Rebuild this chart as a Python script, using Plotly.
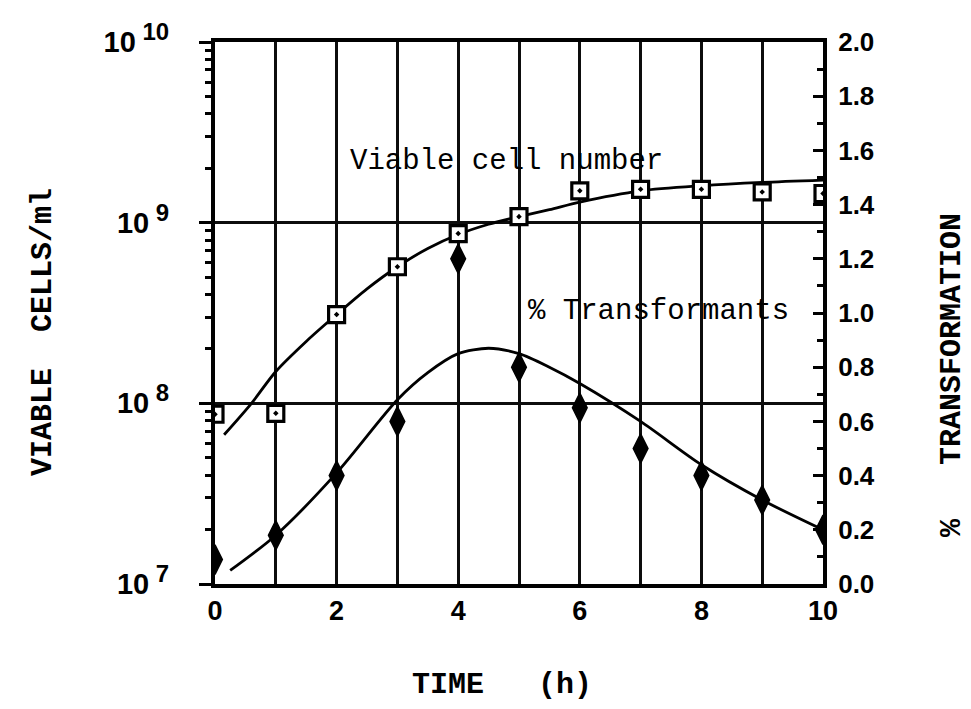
import plotly.graph_objects as go

# Sampling times (h)
time_h = [0, 1, 2, 3, 4, 5, 6, 7, 8, 9, 10]

# Viable cells per ml measured at each time point
viable_cells = [8.7e7, 8.8e7, 3.1e8, 5.7e8, 8.7e8, 1.08e9, 1.5e9, 1.53e9, 1.53e9, 1.48e9, 1.45e9]

# Percent transformants measured at each time point
transformants_pct = [0.09, 0.18, 0.40, 0.60, 1.20, 0.80, 0.65, 0.50, 0.40, 0.31, 0.20]

# Smoothed growth curve for viable cells
viable_fit_t = [0.15, 0.6, 1, 1.5, 2, 2.5, 3, 3.5, 4, 4.5, 5, 5.5, 6, 7, 8, 9, 10]
viable_fit = [6.7e7, 1.0e8, 1.5e8, 2.2e8, 3.1e8, 4.3e8, 5.7e8, 7.2e8, 8.6e8, 9.8e8,
              1.08e9, 1.18e9, 1.3e9, 1.5e9, 1.6e9, 1.67e9, 1.72e9]

# Smoothed curve for percent transformants
transf_fit_t = [0.25, 1, 2, 3, 3.5, 4, 4.5, 5, 5.5, 6, 7, 8, 9, 10]
transf_fit = [0.05, 0.18, 0.41, 0.68, 0.78, 0.85, 0.87, 0.85, 0.80, 0.74, 0.60, 0.44, 0.31, 0.20]

# Axis ticks
x_ticks = [0, 2, 4, 6, 8, 10]
x_minor = [1, 3, 5, 7, 9]
left_exps = [7, 8, 9, 10]
right_ticks = [round(0.2 * i, 1) for i in range(11)]

W, H = 971, 709
L, R, T, B = 215, 148, 42, 125
PW, PH = W - L - R, H - T - B


def px_to_paper(px, py):
    return (px - L) / PW, (H - B - py) / PH


fig = go.Figure()

fig.add_trace(go.Scatter(
    x=viable_fit_t, y=viable_fit, mode="lines",
    line=dict(color="black", width=2.8, shape="spline", smoothing=0.8),
    yaxis="y", showlegend=False, hoverinfo="skip"))

fig.add_trace(go.Scatter(
    x=transf_fit_t, y=transf_fit, mode="lines",
    line=dict(color="black", width=2.8, shape="spline", smoothing=0.8),
    yaxis="y2", showlegend=False, hoverinfo="skip"))

fig.add_trace(go.Scatter(
    x=time_h, y=viable_cells, mode="markers",
    marker=dict(symbol="square-dot", size=16, color="white",
                line=dict(color="black", width=3.2)),
    yaxis="y", showlegend=False))

fig.add_trace(go.Scatter(
    x=time_h, y=transformants_pct, mode="markers",
    marker=dict(symbol="diamond-tall", size=21, color="black",
                line=dict(color="black", width=1.5)),
    yaxis="y2", showlegend=False))

minor_left = [m * 10 ** e for e in [7, 8, 9] for m in range(2, 10)]
grid_c, grid_w = "#0d0d0d", 2.8

fig.update_layout(
    width=W, height=H,
    margin=dict(l=L, r=R, t=T, b=B, pad=0),
    paper_bgcolor="white", plot_bgcolor="white",
    xaxis=dict(
        range=[0, 10], tickmode="array", tickvals=x_ticks,
        ticktext=[str(v) for v in x_ticks],
        showgrid=True, gridcolor=grid_c, gridwidth=grid_w,
        minor=dict(tickvals=x_minor, showgrid=True, gridcolor=grid_c, gridwidth=grid_w, ticks=""),
        showline=True, linecolor="black", linewidth=4, mirror=True,
        ticks="", zeroline=False, ticklabelstandoff=0,
        tickfont=dict(family="Liberation Sans", size=27, color="black", weight="bold"),
    ),
    yaxis=dict(
        type="log", range=[7, 10], tickmode="array",
        tickvals=[10 ** e for e in left_exps],
        ticktext=[f"10<sup><span style='font-size:24px'> {e}</span></sup>" for e in left_exps],
        showgrid=True, gridcolor=grid_c, gridwidth=grid_w,
        ticks="outside", ticklen=12, tickwidth=2.5, tickcolor="black",
        minor=dict(tickvals=minor_left, ticks="outside", ticklen=6, tickwidth=2.5,
                   tickcolor="black", showgrid=False),
        showline=True, linecolor="black", linewidth=4, mirror=True,
        zeroline=False, ticklabelstandoff=24,
        tickfont=dict(family="Liberation Sans", size=29, color="black", weight="bold"),
    ),
    yaxis2=dict(
        overlaying="y", side="right", range=[0, 2], tickmode="array",
        tickvals=right_ticks, ticktext=[f"{v:.1f}" for v in right_ticks],
        showgrid=False, zeroline=False,
        ticks="inside", ticklen=10, tickwidth=2.5, tickcolor="black",
        minor=dict(dtick=0.1, tick0=0, ticks="inside", ticklen=6, tickwidth=2.5,
                   tickcolor="black", showgrid=False),
        showline=True, linecolor="black", linewidth=4,
        ticklabelstandoff=6,
        tickfont=dict(family="Liberation Sans", size=26, color="black", weight="bold"),
    ),
)

title_font = dict(family="Liberation Mono", size=30, color="black", weight="bold")
label_font = dict(family="Liberation Mono", size=29, color="black")

annotations = []

x, y = px_to_paper(43, 332)
annotations.append(dict(text="VIABLE  CELLS/ml", x=x, y=y, xref="paper", yref="paper",
                        textangle=-90, showarrow=False, font=title_font,
                        xanchor="center", yanchor="middle"))

x, y = px_to_paper(502, 685)
annotations.append(dict(text="TIME   (h)", x=x, y=y, xref="paper", yref="paper",
                        showarrow=False, font=title_font,
                        xanchor="center", yanchor="middle"))

x, y = px_to_paper(952, 375)
annotations.append(dict(text="%   TRANSFORMATION", x=x, y=y, xref="paper", yref="paper",
                        textangle=-90, showarrow=False, font=title_font,
                        xanchor="center", yanchor="middle"))

annotations.append(dict(text="Viable cell number", x=4.79, y=9.34, xref="x", yref="y",
                        showarrow=False, font=label_font,
                        xanchor="center", yanchor="middle"))

annotations.append(dict(text="% Transformants", x=7.3, y=1.007, xref="x", yref="y2",
                        showarrow=False, font=label_font,
                        xanchor="center", yanchor="middle"))

fig.update_layout(annotations=annotations)

fig.write_html("out.html")
